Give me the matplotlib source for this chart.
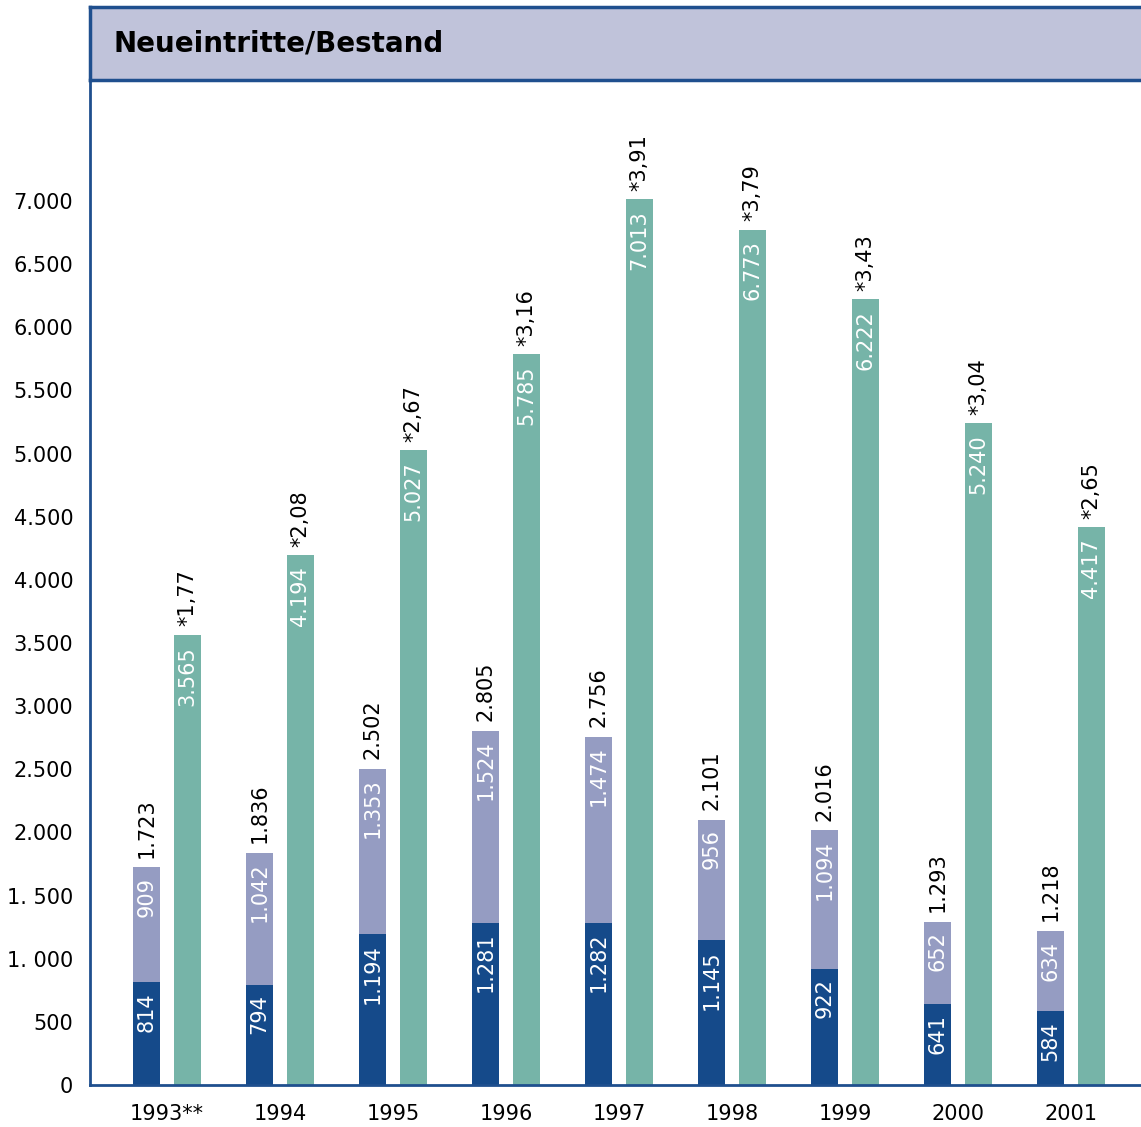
import numpy as np
import matplotlib.pyplot as plt

# daten
jahre = ['1993**', '1994', '1995', '1996', '1997', '1998', '1999', '2000', '2001']
neu_dunkel = [814, 794, 1194, 1281, 1282, 1145, 922, 641, 584]
neu_hell = [909, 1042, 1353, 1524, 1474, 956, 1094, 652, 634]
neu_gesamt = [1723, 1836, 2502, 2805, 2756, 2101, 2016, 1293, 1218]
bestand = [3565, 4194, 5027, 5785, 7013, 6773, 6222, 5240, 4417]
quote = ['1,77', '2,08', '2,67', '3,16', '3,91', '3,79', '3,43', '3,04', '2,65']
y_ticks = [0, 500, 1000, 1500, 2000, 2500, 3000, 3500, 4000, 4500, 5000, 5500, 6000, 6500, 7000]
y_labels = ['0', '500', '1. 000', '1. 500', '2.000', '2.500', '3.000', '3.500', '4.000',
            '4.500', '5.000', '5.500', '6.000', '6.500', '7.000']

dunkelblau = '#154A8A'
hellblau = '#959CC2'
gruen = '#76B4A8'
rahmen = '#1F4F8E'
titel_bg = '#C0C3DA'

plt.rcParams['font.family'] = ['DejaVu Sans']

def fmt(v):
    return f'{v:,}'.replace(',', '.')

W, H = 1141, 1127
fig = plt.figure(figsize=(W / 100, H / 100), dpi=100)

# hauptachse
ax = fig.add_axes([90 / W, (H - 1085) / H, (W - 90) / W, (1085 - 80) / H])
x = np.arange(len(jahre))
d = 0.18
b = 0.24
ax.bar(x - d, neu_dunkel, width=b, color=dunkelblau)
ax.bar(x - d, np.array(neu_gesamt) - np.array(neu_dunkel), bottom=neu_dunkel, width=b, color=hellblau)
ax.bar(x + d, bestand, width=b, color=gruen)

fs = 15
for i in range(len(jahre)):
    ax.annotate(fmt(neu_dunkel[i]), xy=(x[i] - d, neu_dunkel[i]), xytext=(0, -7),
                textcoords='offset points', rotation=90, ha='center', va='top',
                color='white', fontsize=fs)
    ax.annotate(fmt(neu_hell[i]), xy=(x[i] - d, neu_gesamt[i]), xytext=(0, -7),
                textcoords='offset points', rotation=90, ha='center', va='top',
                color='white', fontsize=fs)
    ax.annotate(fmt(neu_gesamt[i]), xy=(x[i] - d, neu_gesamt[i]), xytext=(0, 7),
                textcoords='offset points', rotation=90, ha='center', va='bottom',
                color='black', fontsize=fs)
    ax.annotate(fmt(bestand[i]), xy=(x[i] + d, bestand[i]), xytext=(0, -8),
                textcoords='offset points', rotation=90, ha='center', va='top',
                color='white', fontsize=fs)
    ax.annotate('*' + quote[i], xy=(x[i] + d, bestand[i]), xytext=(0, 6),
                textcoords='offset points', rotation=90, ha='center', va='bottom',
                color='black', fontsize=fs)

ax.set_xlim(-0.68, 8.62)
ax.set_ylim(0, (1085 - 80) / 0.1263)
ax.set_yticks(y_ticks)
ax.set_yticklabels(y_labels, fontsize=fs)
ax.set_xticks(x)
ax.set_xticklabels(jahre, fontsize=fs)
ax.tick_params(axis='y', length=0, pad=12)
ax.tick_params(axis='x', length=0, pad=14)
ax.spines['top'].set_visible(False)
ax.spines['right'].set_visible(False)
for s in ['left', 'bottom']:
    ax.spines[s].set_color(rahmen)
    ax.spines[s].set_linewidth(2)

# titelbalken
tax = fig.add_axes([90 / W, (H - 80) / H, (W - 90) / W + 0.01, (80 - 7) / H])
tax.set_facecolor(titel_bg)
tax.set_xticks([])
tax.set_yticks([])
tax.spines['right'].set_visible(False)
for s in ['left', 'top', 'bottom']:
    tax.spines[s].set_color(rahmen)
    tax.spines[s].set_linewidth(2.5)
tax.text(23 / (W - 90), 0.5, 'Neueintritte/Bestand', transform=tax.transAxes,
         fontsize=20, fontweight='bold', va='center', ha='left', color='black')

fig.savefig('out.png', dpi=100)
